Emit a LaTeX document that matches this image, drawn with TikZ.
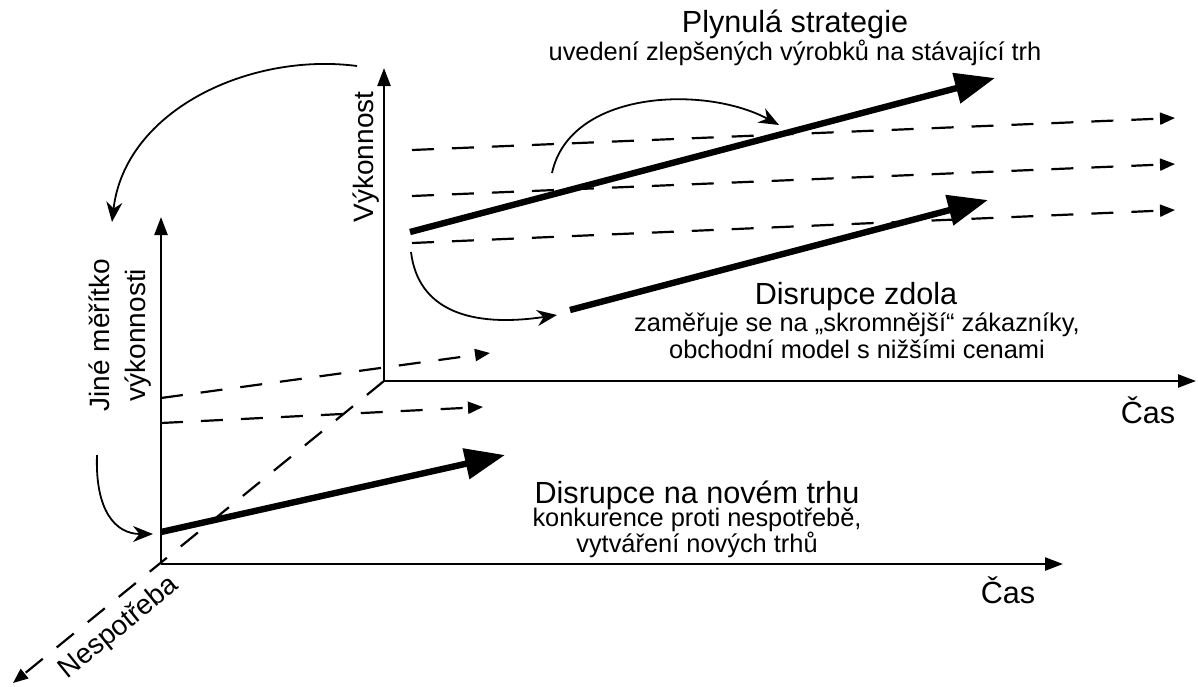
\documentclass[tikz,border=0pt]{standalone}
\usepackage{fontspec}
\setmainfont{Liberation Sans}
\usetikzlibrary{arrows.meta}
\begin{document}
\begin{tikzpicture}[x=0.5pt,y=-0.5pt,
  axisline/.style={line width=1.2pt,-{Triangle[length=9pt,width=6.5pt]}},
  dline/.style={line width=1.1pt,dash pattern=on 11pt off 9pt,-{Triangle[length=7.5pt,width=6pt]}},
  bigarrow/.style={line width=3.2pt,-{Triangle[length=20pt,width=15pt]}},
  curv/.style={line width=0.9pt,-{Stealth[length=10pt,width=8pt]}},
  ttl/.style={inner sep=0pt,font=\fontsize{15.3}{18}\selectfont},
  sub/.style={inner sep=0pt,font=\fontsize{12.7}{15}\selectfont},
  axlab/.style={inner sep=0pt,font=\fontsize{14}{18}\selectfont},
]
\useasboundingbox (0,0) rectangle (1198,686);
% coordinates
\coordinate (O2) at (384,381);
\coordinate (Y2) at (384,68);
\coordinate (X2) at (1196,381);
\coordinate (O1) at (161,564);
\coordinate (Y1) at (161,217);
\coordinate (X1) at (1063,564);
\coordinate (N) at (13,683);
% axes
\draw[axisline] (O2) -- (Y2);
\draw[axisline] (O2) -- (X2);
\draw[axisline] (O1) -- (Y1);
\draw[axisline] (O1) -- (X1);
\draw[dline] (O2) -- (N);
% front dashed lines
\coordinate (fa1) at (161,398); \coordinate (fb1) at (490,353);
\coordinate (fa2) at (161,423); \coordinate (fb2) at (483,407);
\draw[dline] (fa1) -- (fb1);
\draw[dline] (fa2) -- (fb2);
% back dashed lines
\coordinate (ba1) at (412,150); \coordinate (bb1) at (1175,118);
\coordinate (ba2) at (412,196); \coordinate (bb2) at (1175,164);
\coordinate (ba3) at (412,243); \coordinate (bb3) at (1175,210);
\draw[dline] (ba1) -- (bb1);
\draw[dline] (ba2) -- (bb2);
\draw[dline] (ba3) -- (bb3);
% thick arrows
\coordinate (pa) at (410,232); \coordinate (pb) at (995,78);
\coordinate (za) at (570,310); \coordinate (zb) at (988,200);
\coordinate (na) at (161,532); \coordinate (nb) at (505,455);
\draw[bigarrow] (pa) -- (pb);
\draw[bigarrow] (za) -- (zb);
\draw[bigarrow] (na) -- (nb);
% curved arrows
\coordinate (c1s) at (357,66); \coordinate (c1e) at (112,222);
\draw[curv] (c1s) .. controls (250,52) and (125,110) .. (c1e);
\coordinate (c2s) at (552,173); \coordinate (c2e) at (779,125);
\draw[curv] (c2s) .. controls (570,90) and (705,85) .. (c2e);
\coordinate (c3s) at (411,252); \coordinate (c3e) at (557,315);
\draw[curv] (c3s) .. controls (418,310) and (470,328) .. (c3e);
\coordinate (c4s) at (97,455); \coordinate (c4e) at (153,534);
\draw[curv] (c4s) .. controls (95,510) and (115,534) .. (c4e);
% texts
\node[ttl] (plyn) at (795,24) {Plynulá strategie};
\node[sub] (plynsub) at (795,53) {uvedení zlepšených výrobků na stávající trh};
\node[ttl] (zdola) at (856,297) {Disrupce zdola};
\node[sub] (zdola1) at (857,325) {zaměřuje se na „skromnější“ zákazníky,};
\node[sub] (zdola2) at (857,349) {obchodní model s nižšími cenami};
\node[ttl] (novy) at (697,495) {Disrupce na novém trhu};
\node[sub] (novy1) at (697,520) {konkurence proti nespotřebě,};
\node[sub] (novy2) at (697,545) {vytváření nových trhů};
\node[ttl] (cas2) at (1148,410) {Čas};
\node[ttl] (cas1) at (1008,590) {Čas};
\node[axlab,rotate=90] (vyk) at (366,157) {Výkonnost};
\node[axlab,rotate=90,align=center] (jine) at (120,335) {Jiné měřítko\\výkonnosti};
\node[axlab,rotate=39] (nesp) at (119,628) {Nespotřeba};
\end{tikzpicture}
\end{document}
